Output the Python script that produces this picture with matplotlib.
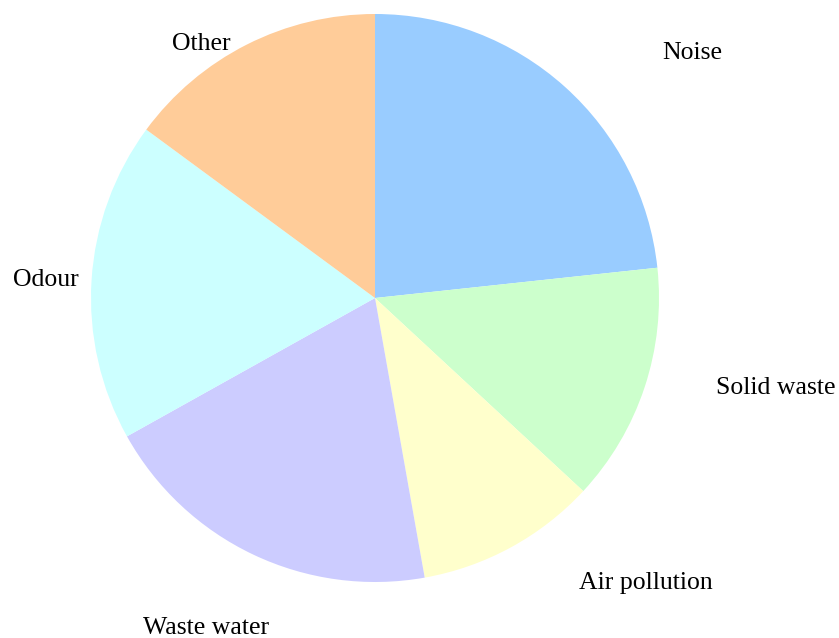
import matplotlib
matplotlib.use("Agg")
import matplotlib.pyplot as plt

# data (share of complaints, %)
labels = ["Noise", "Solid waste", "Air pollution", "Waste water", "Odour", "Other"]
shares = [23.3, 13.6, 10.3, 19.7, 18.2, 14.9]
colors = ["#99CCFF", "#CCFFCC", "#FFFFCC", "#CCCCFF", "#CCFFFF", "#FFCC99"]

# label centres, in pie-radius units (layout only)
label_pos = [(1.116, 0.863), (1.412, -0.316), (0.954, -1.003),
             (-0.595, -1.162), (-1.160, 0.064), (-0.613, 0.895)]

plt.rcParams["font.family"] = ["Liberation Serif", "DejaVu Serif"]

fig = plt.figure(figsize=(8.39, 6.38), dpi=100)
ax = fig.add_axes([0, 0, 1, 1])

wedges, texts = ax.pie(shares, labels=labels, colors=colors,
                       startangle=90, counterclock=False,
                       wedgeprops=dict(linewidth=0), textprops=dict(fontsize=18.5))

for t, (x, y) in zip(texts, label_pos):
    t.set_position((x, y))
    t.set_ha("center")
    t.set_va("center")

# centre at (375, 298) px, radius 284 px
r = 284.0
ax.set_xlim(-375 / r, (839 - 375) / r)
ax.set_ylim(-(638 - 298) / r, 298 / r)
ax.set_aspect("equal")
ax.axis("off")

plt.savefig("out.png", dpi=100)
